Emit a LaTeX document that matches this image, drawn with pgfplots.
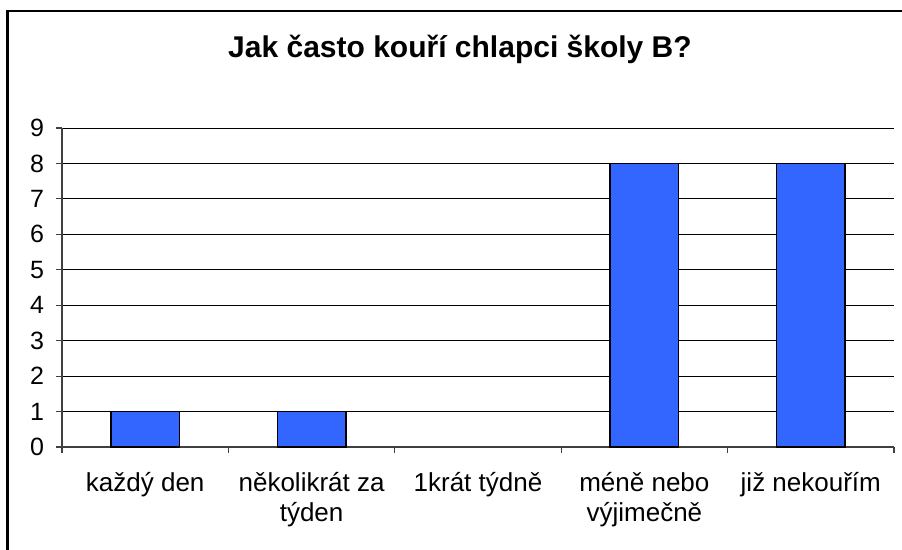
\documentclass[border=0pt]{standalone}
\usepackage{fontspec}
\setmainfont{Liberation Sans}
\usepackage{pgfplots}
\pgfplotsset{compat=1.18}
\definecolor{barblue}{HTML}{3366FF}
\begin{document}
\begin{tikzpicture}
\path[use as bounding box] (0pt,0pt) rectangle (451pt,275pt);
\draw[line width=1.1pt] (3.75pt,-1pt) -- (3.75pt,269.5pt) -- (452pt,269.5pt);
\node[font=\fontsize{15}{18}\selectfont\bfseries] at (230pt,250.5pt) {Jak často kouří chlapci školy B?};
\begin{axis}[
  at={(31pt,51.5pt)}, anchor=south west,
  scale only axis, width=416pt, height=159.5pt,
  xmin=-0.5, xmax=4.5, ymin=0, ymax=9,
  axis lines*=left,
  axis line style={draw=black!75, line width=1pt},
  ytick={0,...,9},
  ymajorgrids, grid style={black, line width=0.5pt},
  xtick={-0.5,0.5,1.5,2.5,3.5,4.5},
  xticklabels={},
  tick align=outside,
  major tick length=3pt,
  tick style={black!75, line width=0.6pt},
  extra x ticks={0,1,2,3,4},
  extra x tick labels={každý den, několikrát za\\týden, 1krát týdně, méně nebo\\výjimečně, již nekouřím},
  extra x tick style={major tick length=0pt, grid=none},
  xticklabel style={align=center, font=\fontsize{13}{15}\selectfont, yshift=-9pt},
  yticklabel style={font=\fontsize{12.5}{14}\selectfont, xshift=-2.5pt},
  /pgf/number format/assume math mode=true,
  clip=false,
]
\addplot[ybar, bar width=0.41, fill=barblue, draw=black, line width=0.8pt,
  restrict y to domain=0.01:100] coordinates {(0,1) (1,1) (2,0) (3,8) (4,8)};
\end{axis}
\end{tikzpicture}
\end{document}
